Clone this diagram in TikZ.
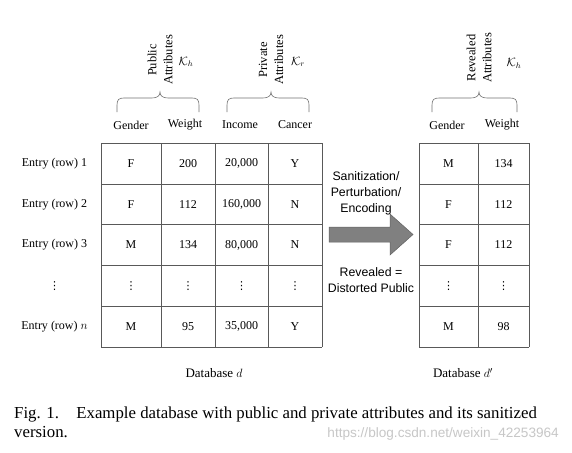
\documentclass[tikz,border=0pt]{standalone}
\usepackage{fontspec}
\setmainfont{Liberation Serif}
\setsansfont{Liberation Sans}
\newfontfamily\dvfont{DejaVu Sans}
\begin{document}
\begin{tikzpicture}[x=1pt,y=-1pt,
  gridline/.style={draw=black!65, line width=0.6pt},
  cell/.style={inner sep=0pt, font=\fontsize{12}{14}\selectfont},
  dots/.style={inner sep=0pt, font=\dvfont\fontsize{11}{12}\selectfont},
  hdr/.style={inner sep=0pt, font=\fontsize{12}{14}\selectfont},
  rowlab/.style={inner sep=0pt, font=\fontsize{12}{14}\selectfont},
  rot/.style={inner sep=0pt, rotate=90, align=center, font=\fontsize{12.5}{16}\selectfont},
  kk/.style={inner sep=0pt, font=\fontsize{12}{14}\selectfont},
  brc/.style={draw=black!55, line width=0.6pt},
  proc/.style={inner sep=0pt, align=center, font=\sffamily\fontsize{12.3}{16}\selectfont},
  dblab/.style={inner sep=0pt, font=\fontsize{13}{15}\selectfont},
  captext/.style={inner sep=0pt, anchor=base west, font=\fontsize{16.8}{19}\selectfont}]
\fill[white] (0,0) rectangle (572,452);
\useasboundingbox (0,0) rectangle (572,452);

\def\rh{40.8}
% ---- grids ----
\foreach \k in {0,...,5}{
  \draw[gridline] (101,143+\rh*\k) -- (322,143+\rh*\k);
  \draw[gridline] (419,143+\rh*\k) -- (529,143+\rh*\k);
}
\foreach \xx in {101,161,215,268,322,419,478,529}{
  \draw[gridline] (\xx,143) -- (\xx,347);
}

% ---- left table ----
\foreach \r/\a/\b/\c/\d in {1/F/200/{20,000}/Y, 2/F/112/{160,000}/N, 3/M/134/{80,000}/N, 5/M/95/{35,000}/Y}{
  \pgfmathsetmacro{\yy}{143+\rh*(\r-0.5)}
  \node[cell] (L\r a) at (131,\yy) {\a};
  \node[cell] (L\r b) at (188,\yy) {\b};
  \node[cell] (L\r c) at (241.5,\yy) {\c};
  \node[cell] (L\r d) at (295,\yy) {\d};
}
\node[dots] (L4a) at (131,285.8) {⋮};
\node[dots] (L4b) at (188,285.8) {⋮};
\node[dots] (L4c) at (241.5,285.8) {⋮};
\node[dots] (L4d) at (295,285.8) {⋮};

\node[rowlab] (e1) at (54.5,163.4) {Entry (row) 1};
\node[rowlab] (e2) at (54.5,204.2) {Entry (row) 2};
\node[rowlab] (e3) at (54.5,245.0) {Entry (row) 3};
\node[dots] (e4) at (54.5,285.8) {⋮};
\node[rowlab] (e5) at (54.5,326.6) {Entry (row) $n$};

% ---- right table ----
\foreach \r/\a/\b in {1/M/134, 2/F/112, 3/F/112, 5/M/98}{
  \pgfmathsetmacro{\yy}{143+\rh*(\r-0.5)}
  \node[cell] (R\r a) at (448.5,\yy) {\a};
  \node[cell] (R\r b) at (503.5,\yy) {\b};
}
\node[dots] (R4a) at (448.5,285.8) {⋮};
\node[dots] (R4b) at (503.5,285.8) {⋮};

% ---- headers ----
\node[hdr] (hg) at (131,125) {Gender};
\node[hdr] (hw) at (185,125) {Weight};
\node[hdr] (hi) at (240,125) {Income};
\node[hdr] (hc) at (295,125) {Cancer};
\node[hdr] (rg) at (447,125) {Gender};
\node[hdr] (rw) at (502,125) {Weight};

% ---- braces ----
\foreach \xa/\xm/\xb in {117/160/199, 227/271/309, 432/479/517}{
  \draw[brc] (\xa,112) -- (\xa,105) .. controls (\xa,99.5) and (\xa+2,98) .. (\xa+7,98)
    -- (\xm-8,98) .. controls (\xm-3,98) and (\xm,96) .. (\xm,92)
    .. controls (\xm,96) and (\xm+3,98) .. (\xm+8,98)
    -- (\xb-7,98) .. controls (\xb-2,98) and (\xb,99.5) .. (\xb,105) -- (\xb,112);
}
\node[rot] (pub) at (160,60) {Public\\Attributes};
\node[rot] (pri) at (271,60) {Private\\Attributes};
\node[rot] (rev) at (479,58) {Revealed\\Attributes};
\node[kk] (k1) at (186,62) {$\mathcal{K}_h$};
\node[kk] (k2) at (298,62) {$\mathcal{K}_r$};
\node[kk] (k3) at (514,63) {$\mathcal{K}_h$};

% ---- arrow ----
\draw[fill=black!50, draw=black!62, line width=0.5pt]
  (329,227) -- (390,227) -- (390,214) -- (413,234.5) -- (390,255) -- (390,242) -- (329,242) -- cycle;
\node[proc] (san) at (366,193) {Sanitization/\\Perturbation/\\Encoding};
\node[proc] (rvd) at (371,280.5) {Revealed =\\Distorted Public};

% ---- database labels ----
\node[dblab] (dbd) at (214,373) {Database $d$};
\node[dblab] (dbd2) at (463,373) {Database $d'$};

% ---- caption ----
\node[captext] (c1) at (14,418) {Fig. 1.\hspace{0.7em} Example database with public and private attributes and its sanitized};
\node[captext] (c2) at (14,437) {version.};
\node[inner sep=0pt, anchor=base east, text=black!22, font=\sffamily\fontsize{13.6}{15}\selectfont] (wm) at (559,437) {https://blog.csdn.net/weixin\_42253964};
\end{tikzpicture}
\end{document}
